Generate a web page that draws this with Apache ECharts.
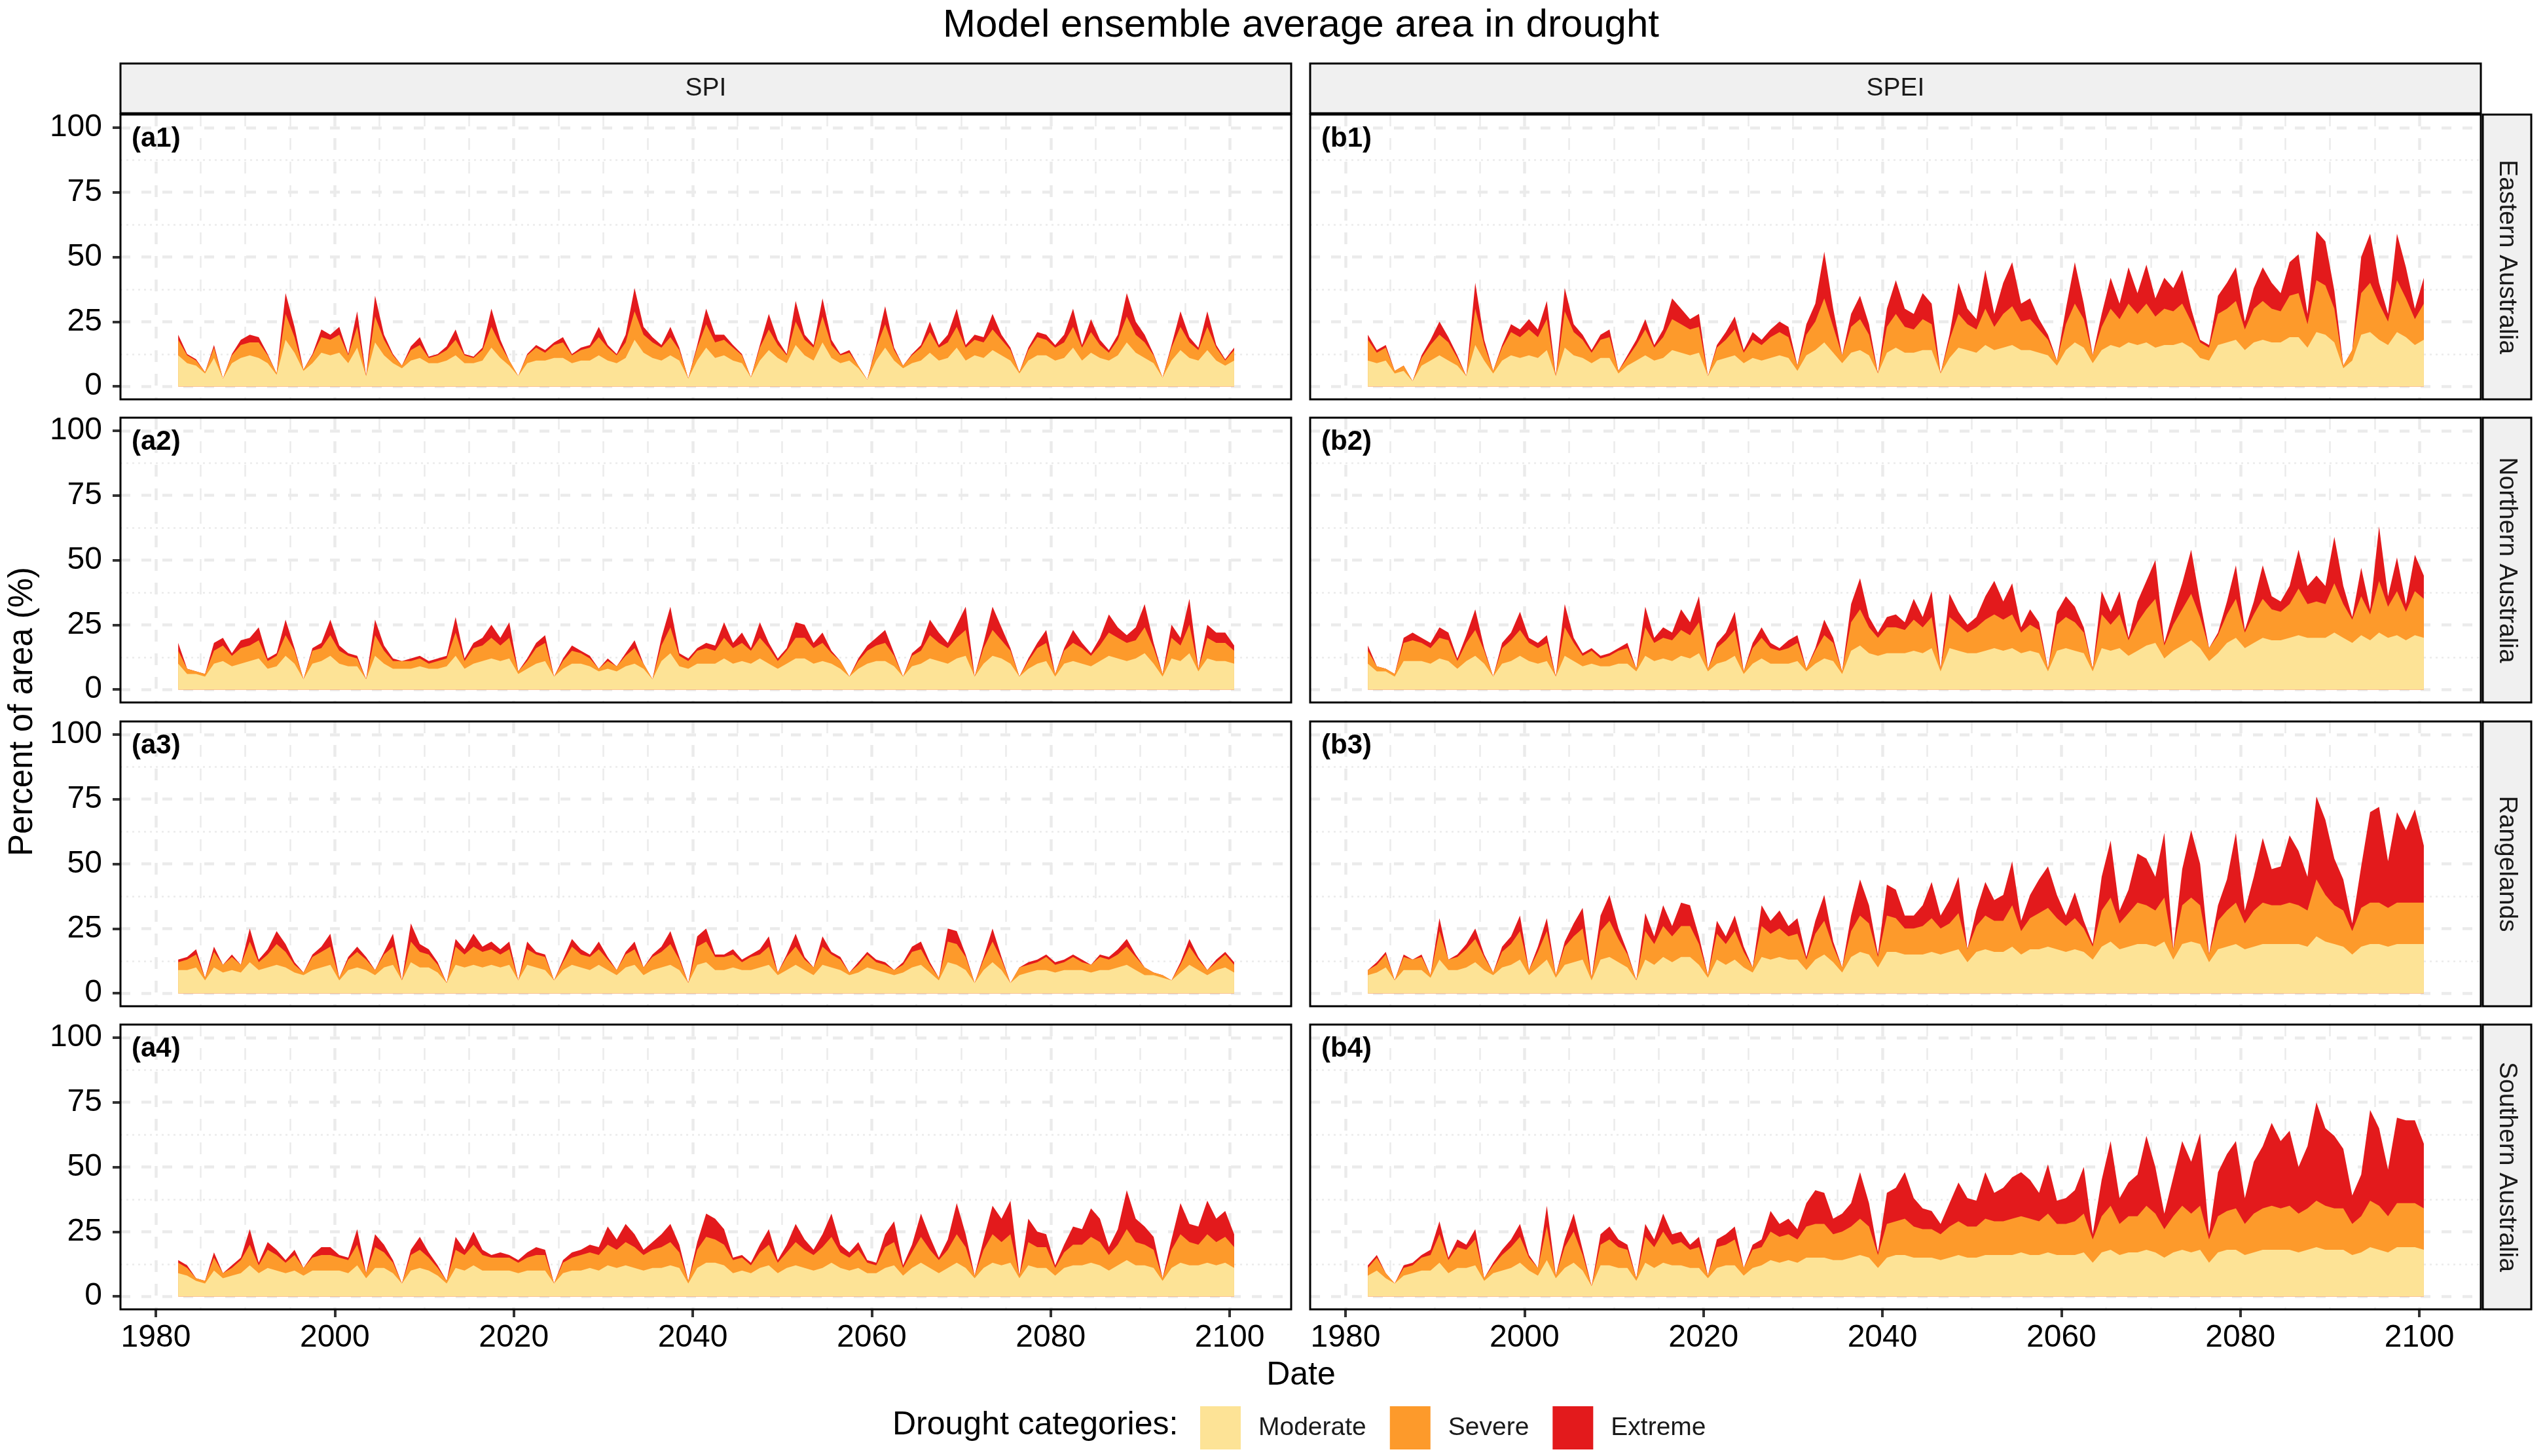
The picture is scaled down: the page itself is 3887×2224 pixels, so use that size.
<!DOCTYPE html>
<html><head><meta charset="utf-8">
<script src="https://cdn.jsdelivr.net/npm/echarts@6/dist/echarts.min.js"></script>
<style>html,body{margin:0;padding:0;background:#fff}#c{width:3887px;height:2224px}</style>
</head><body><div id="c"></div><script>
// ---------------- data ----------------
const years = Array.from({length: 119}, (_, i) => 1982 + i); // 1982 .. 2100
const categories = ['Moderate', 'Severe', 'Extreme'];
const columnLabels = ['SPI', 'SPEI'];
const rowLabels = ['Eastern Australia', 'Northern Australia', 'Rangelands', 'Southern Australia'];
const panelTags = [['(a1)', '(b1)'], ['(a2)', '(b2)'], ['(a3)', '(b3)'], ['(a4)', '(b4)']];
const yTicks = [0, 25, 50, 75, 100];
const yMinorTicks = [12.5, 37.5, 62.5, 87.5];
const xTicks = [1980, 2000, 2020, 2040, 2060, 2080, 2100];
const xMinorTicks = [1985, 1990, 1995, 2005, 2010, 2015, 2025, 2030, 2035, 2045, 2050, 2055, 2065, 2070, 2075, 2085, 2090, 2095];

// (a1) SPI Eastern Australia
const a1Moderate = [12,9,8,5,11,3,9,11,12,11, 9,4.5,18,13,6,9,13,12,13,9, 15,4,17,12,9,7,10,11,9,9, 10,12,9,9,10,15,11,8,4,9, 10,10,11,11,9,10,10,12,10,9, 11,18,13,11,10,12,10,3,10,15, 11,12,10,9,3.5,10,14,11,9,16, 12,10,17,11,9,10,7,2.6,10,15, 10,7,9,10,13,10,11,15,10,12, 11,14,12,10,5,10,12,12,10,11, 15,10,13,11,10,12,17,13,11,9, 3.4,10,14,11,10,14,10,8,10];
const a1Severe = [6,3,2,0.5,4,0,3,5,5,6, 3,0.5,10,6,0.5,3,6,6,7,3, 8,0,10,6,3,1,4,5,2,3, 4,6,3,2,4,8,5,2,0,3, 5,3,5,6,3,4,5,7,5,3, 6,11,7,6,5,7,4,0,5,9, 6,6,5,3,0,5,8,5,3,9, 6,5,10,5,3,3,1,0,5,9, 4,1,3,5,8,5,6,8,5,6, 6,8,6,4,0.5,4,7,6,5,6, 8,5,8,5,3,6,10,7,6,3, 0,5,9,6,4,9,5,2,4];
const a1Extreme = [2,0.5,0.5,0,1,0,0.5,2,3,2, 0.5,0,8,4,0,0.5,3,2,3,0.5, 6,0,8,2,0.5,0,1.5,3,0.5,0.5, 1.5,4,0.5,0.5,1,7,2,0,0,0.5, 1,1,1,2,0.5,1,1,4,1,0.5, 3,9,3,2,1,4,1,0,1,6, 3,2,1,0.5,0,1,6,2,0.5,8, 2,1,7,2,0.5,1,0,0,1,7, 1,0,0.5,1,4,1,3,7,1,2, 2,6,2,1,0,1,2,2,1,3, 7,1,5,2,1,2,9,5,3,0.5, 0,1,6,2,1,6,1,0.5,1];

// (b1) SPEI Eastern Australia
const b1Moderate = [10,9,10,5,6,2,8,10,12,10, 8,4,16,10,5,10,12,11,12,11, 14,4,15,12,11,9,11,11,5,8, 10,12,10,11,14,13,12,13,4,10, 11,12,9,11,10,11,12,11,6,12, 14,17,13,9,13,14,12,5,13,15, 13,13,14,14,5,11,15,14,13,16, 14,15,16,14,14,13,12,8,14,17, 15,9,14,16,15,17,16,17,15,16, 16,17,15,11,10,16,17,18,14,17, 18,17,17,19,19,15,21,20,17,7, 10,20,21,18,16,21,19,16,18];
const b1Severe = [8,4,5,1,2,0,3,6,8,7, 3,0,14,6,1,5,9,8,10,8, 12,0,14,9,7,4,7,8,1,3, 6,10,5,8,12,11,10,10,0,5, 7,10,4,7,6,8,9,8,2,8, 11,17,10,3,10,12,8,0,10,13, 10,9,12,10,0,7,13,10,9,14, 9,13,15,11,12,9,6,2,10,15, 11,3,9,14,11,15,12,15,12,14, 13,15,10,6,5,12,13,15,8,13, 15,13,12,16,17,9,20,19,13,1, 4,16,19,14,9,20,15,10,14];
const b1Extreme = [2,1,1,0,0,0,1,2,5,2, 1,0,10,2,0,1,3,3,4,3, 7,0,9,3,2,1,2,3,0,1, 2,4,1,3,8,6,4,5,0,1, 3,5,1,3,2,3,4,4,0,4, 7,18,7,0,5,9,4,0,7,13, 7,6,10,8,0,2,12,6,4,15, 5,12,17,7,8,4,2,0,6,16, 6,0,5,12,6,14,8,15,7,12, 9,13,5,1,1,7,10,13,3,8, 13,10,7,13,15,4,19,17,7,0, 0,14,19,8,3,18,12,4,10];

// (a2) SPI Northern Australia
const a2Moderate = [10,6,6,5,10,11,9,10,11,12, 8,9,13,10,4,10,11,13,10,9, 9,4,13,10,8,8,8,9,8,8, 9,13,8,10,11,12,11,12,6,8, 10,11,5,8,10,10,9,7,8,7, 9,10,8,4,11,14,9,8,10,10, 10,12,10,11,10,12,10,8,10,12, 12,10,11,10,8,5,8,10,11,11, 9,5,9,10,12,11,10,12,13,5, 10,13,12,10,5,8,10,11,5,10, 11,10,9,11,13,12,11,12,14,10, 5,12,11,14,7,12,11,11,10];
const a2Severe = [5,2,1,1,5,6,4,6,6,7, 3,4,8,5,0,5,5,8,5,4, 3,0,8,5,3,3,3,3,2,3, 3,9,3,6,6,8,6,8,1,3, 6,7,0,3,5,4,3,1,3,2, 4,6,2,0,6,10,4,3,5,6, 5,8,6,7,5,8,6,3,5,8, 8,6,7,4,3,0,3,5,6,7, 4,0,4,5,9,7,6,8,10,0, 6,10,7,5,0,3,6,7,1,5, 7,6,4,6,9,8,7,7,10,6, 1,8,6,11,1,8,7,7,5];
const a2Extreme = [3,0,0,0,3,3,1,3,3,5, 1,1,6,1,0,1,2,6,2,1, 1,0,6,2,1,0,1,1,1,1, 1,6,1,2,3,5,3,6,0,1, 2,3,0,1,2,1,1,0,1,0, 1,3,0,0,3,8,1,1,1,2, 2,6,2,4,1,6,2,1,1,6, 5,2,4,1,0,0,1,2,3,5, 1,0,1,2,6,4,2,5,9,0, 2,9,5,1,0,1,2,5,0,1, 5,2,1,3,7,4,3,5,9,2, 0,5,3,10,0,5,4,4,2];

// (b2) SPEI Northern Australia
const b2Moderate = [10,7,7,5,11,11,11,10,12,11, 8,11,13,10,5,10,11,13,11,10, 11,5,13,11,9,10,9,9,10,10, 7,13,11,12,11,13,12,14,7,10, 11,13,6,10,12,10,10,10,11,7, 10,12,11,6,15,17,14,13,14,14, 14,15,14,16,7,16,15,14,14,15, 16,15,16,14,15,14,7,15,16,15, 14,7,16,15,16,13,15,17,18,12, 15,17,19,16,11,14,18,20,16,18, 20,19,19,20,21,20,20,20,22,20, 18,21,19,22,20,21,19,21,20];
const b2Severe = [5,2,1,1,7,8,7,6,8,8, 3,7,10,5,0,6,8,10,7,6, 7,0,11,7,4,5,3,4,5,6, 1,11,7,8,8,10,9,12,1,6, 8,10,1,6,8,6,5,6,7,1, 5,9,7,1,11,14,10,7,10,10, 9,12,10,12,1,12,10,8,10,12, 13,12,13,8,10,9,1,10,12,11, 8,1,13,10,13,6,11,14,17,5, 10,14,18,12,5,7,11,15,6,11, 15,12,11,13,18,13,14,13,19,13, 9,15,10,20,12,17,11,17,15];
const b2Extreme = [2,0,0,0,2,3,2,2,4,3, 1,3,8,1,0,2,3,7,2,2, 3,0,9,2,1,1,1,1,1,2, 0,8,2,4,3,8,5,10,0,2, 3,7,0,2,4,2,1,3,3,0, 1,6,2,0,7,12,4,2,4,5, 3,8,4,10,0,9,5,3,4,9, 13,7,12,2,6,3,0,5,8,6, 2,0,9,5,9,1,8,11,15,1, 5,10,17,6,0,1,5,13,1,5, 13,5,4,7,15,7,10,7,18,7, 1,11,2,21,4,13,3,14,9];

// (a3) SPI Rangelands
const a3Moderate = [9,9,10,5,10,8,9,8,12,9, 10,11,10,8,7,9,10,11,5,9, 10,9,7,10,11,5,12,10,10,8, 4,11,10,11,10,11,10,11,5,11, 10,9,5,9,11,10,9,11,9,7, 10,11,7,9,10,11,9,4,11,12, 9,9,10,9,9,10,11,7,9,11, 9,7,11,10,9,7,8,10,9,8, 7,8,10,11,8,5,12,11,9,4, 9,12,9,4,7,8,9,9,8,9, 9,9,8,9,9,10,11,9,7,7, 6,5,8,11,9,7,9,10,8];
const a3Severe = [3,4,5,1,6,3,5,3,8,3, 5,8,6,3,1,5,6,7,1,4, 6,4,2,5,7,0,8,6,5,3, 0,7,5,7,6,6,5,6,0,6, 5,5,0,3,7,5,5,6,4,2, 5,6,3,5,6,8,4,0,7,8, 5,5,5,3,5,5,7,1,5,7, 4,3,7,5,4,1,3,5,3,3, 2,3,6,6,3,1,8,8,5,0, 4,8,4,0,3,3,3,5,3,3, 5,3,3,5,4,5,7,5,3,1, 1,0,3,7,4,2,3,5,3];
const a3Extreme = [1,1,2,0,2,0,1,0,5,1, 2,5,3,1,0,1,2,5,0,1, 2,1,0,1,5,0,7,3,2,1, 0,3,2,5,2,3,2,3,0,3, 1,1,0,1,3,2,1,3,1,0, 1,3,0,1,2,5,1,0,4,5, 1,1,2,1,1,2,4,0,1,5, 1,0,4,1,1,0,1,1,1,1, 0,1,2,3,1,0,5,5,1,0, 1,5,1,0,0,1,1,1,1,1, 1,1,0,1,1,2,3,1,0,0, 0,0,1,3,1,0,1,1,1];

// (b3) SPEI Rangelands
const b3Moderate = [7,8,10,5,9,9,9,6,13,9, 9,10,12,9,7,10,11,13,7,10, 13,6,11,12,13,5,13,14,12,10, 5,13,11,14,12,14,14,11,6,13, 11,13,10,8,14,13,14,13,13,9, 13,15,12,8,14,16,15,10,16,16, 15,15,15,16,15,16,17,12,16,17, 16,16,18,15,17,17,18,17,16,17, 16,13,18,20,17,18,19,19,18,20, 13,19,20,19,12,17,18,19,17,18, 19,19,19,19,19,18,22,20,19,18, 15,18,19,19,18,19,19,19,19];
const b3Severe = [2,3,5,0,5,4,5,1,11,4, 5,7,9,5,1,6,8,11,2,6, 11,1,7,10,12,1,11,14,9,5, 0,11,8,12,10,12,12,8,1,10, 8,11,6,2,12,10,11,9,10,4, 10,13,6,2,10,14,12,4,14,13, 10,10,11,13,10,11,14,5,10,13, 12,12,16,9,12,14,15,12,10,12, 9,5,14,17,10,13,16,15,14,17, 4,15,17,15,3,11,14,16,10,14, 16,15,15,16,15,14,22,18,15,14, 9,15,16,16,15,16,16,16,16];
const b3Extreme = [0,1,1,0,1,0,1,0,5,0, 1,2,4,1,0,2,3,6,0,2, 5,0,2,5,8,0,6,10,4,1, 0,7,3,8,4,9,8,3,0,5, 3,6,2,0,8,5,7,4,6,1, 5,10,2,0,6,14,7,1,12,11, 5,5,8,14,5,9,14,0,6,13, 8,10,17,4,9,13,16,9,4,10, 3,1,13,22,5,9,19,18,13,25, 0,14,26,16,0,6,12,27,5,13, 25,14,15,26,21,13,32,29,18,12, 3,16,35,37,18,35,28,36,22];

// (a4) SPI Southern Australia
const a4Moderate = [9,8,6,5,10,7,8,9,12,9, 11,10,9,10,8,10,10,10,10,9, 12,7,11,11,9,5,10,11,10,8, 5,11,10,12,10,10,10,10,9,10, 10,10,5,9,10,10,11,10,12,11, 12,11,10,11,11,12,11,5,11,13, 13,12,9,10,9,11,12,9,11,12, 11,10,11,13,11,10,11,9,9,11, 12,8,11,13,11,9,11,13,11,7, 11,13,12,13,7,12,11,11,8,11, 12,12,13,12,10,12,14,12,12,11, 6,11,13,12,12,13,12,13,11];
const a4Severe = [4,3,1,1,5,2,3,5,8,3, 7,6,4,6,3,5,6,6,5,5, 8,2,8,6,4,0,6,7,5,3, 1,7,6,8,6,5,5,5,4,5, 6,6,0,4,5,6,6,6,8,7, 9,8,6,7,8,9,6,1,7,10, 9,8,5,5,3,6,8,4,6,9, 7,6,8,10,6,5,7,4,3,8, 9,3,6,10,7,5,7,11,8,1, 7,11,9,11,1,9,8,8,3,6, 8,8,10,9,6,8,12,9,8,7, 1,7,11,9,8,11,9,10,8];
const a4Extreme = [1,1,0,0,2,0,1,1,6,1, 3,2,1,2,0,1,3,3,1,1, 6,0,5,3,1,0,2,5,2,1, 0,5,2,5,2,1,2,1,1,2, 3,2,0,1,2,2,3,3,7,4, 7,5,2,3,5,7,3,0,3,9, 8,6,1,1,1,3,6,1,3,7, 4,2,5,9,3,2,3,1,1,5, 8,1,3,9,5,1,4,12,5,0, 4,11,9,13,0,9,6,5,1,3, 7,6,11,9,3,6,15,9,7,5, 0,4,12,7,7,13,9,10,5];

// (b4) SPEI Southern Australia
const b4Moderate = [8,10,7,5,8,9,10,10,13,9, 11,11,12,6,9,10,11,13,10,8, 14,7,11,13,10,4,12,12,11,11, 6,13,11,13,12,12,11,11,7,11, 12,12,8,11,12,14,13,14,13,15, 15,15,14,14,15,16,15,11,15,16, 16,15,15,15,14,15,16,15,15,16, 16,16,16,17,16,16,17,16,16,16, 17,13,17,18,16,17,17,18,17,15, 17,18,17,18,13,17,18,18,16,17, 18,18,18,18,17,18,19,18,18,18, 16,17,19,18,17,19,19,19,18];
const b4Severe = [3,5,2,0,3,3,5,6,11,5, 8,7,10,1,3,6,8,10,5,3, 13,1,8,12,6,0,8,10,8,7, 1,10,8,12,8,9,7,8,1,8, 8,10,3,7,7,11,10,10,9,12, 13,13,10,11,12,14,12,5,13,13, 14,12,11,11,10,12,13,12,12,14, 13,13,14,14,14,13,15,12,12,13, 15,9,14,17,12,14,14,17,15,11, 14,17,15,17,9,14,15,16,12,15, 16,17,16,17,15,16,18,17,16,16, 12,14,18,17,14,17,17,17,16];
const b4Extreme = [1,1,0,0,1,1,1,2,5,1, 3,2,4,0,1,2,3,5,1,0, 8,0,3,7,2,0,4,5,3,2, 0,5,3,7,4,4,2,4,0,3, 4,5,0,2,3,8,5,6,4,9, 13,12,6,7,9,18,9,1,12,13, 18,11,8,7,4,9,15,11,10,18, 11,13,16,17,15,11,19,9,10,12, 18,2,14,25,10,13,16,27,18,6, 15,25,20,28,2,17,22,26,10,20, 24,32,26,29,18,24,38,30,28,23, 11,16,35,30,18,33,32,32,25];

// panels[row][col] = [moderate, severe, extreme]
const panels = [
  [[a1Moderate, a1Severe, a1Extreme], [b1Moderate, b1Severe, b1Extreme]],
  [[a2Moderate, a2Severe, a2Extreme], [b2Moderate, b2Severe, b2Extreme]],
  [[a3Moderate, a3Severe, a3Extreme], [b3Moderate, b3Severe, b3Extreme]],
  [[a4Moderate, a4Severe, a4Extreme], [b4Moderate, b4Severe, b4Extreme]]
];

// ---------------- layout & style ----------------
const FONT = '"Liberation Sans", Arial, Helvetica, sans-serif';
const colors = ['#FDE396', '#FD9A2B', '#E31A1C'];
const colLeft = [184, 2001], colW = 1788;
const rowTop = [175, 638, 1102, 1565], rowH = 435;
const stripTop = 97, stripH = 76, rStripX = 3792, rStripW = 74;
const X_MIN = 1976.05, X_MAX = 2106.87, Y_MIN = -5, Y_MAX = 105;
const gridGrey = '#EBEBEB';

const option = {
  animation: false,
  backgroundColor: '#ffffff',
  textStyle: {fontFamily: FONT},
  grid: [], xAxis: [], yAxis: [], series: [],
  legend: {
    data: categories, left: 1828, top: 2143, orient: 'horizontal',
    itemWidth: 62, itemHeight: 66, itemGap: 36, icon: 'rect', selectedMode: false,
    itemStyle: {borderWidth: 0},
    textStyle: {fontSize: 39, color: '#1A1A1A', fontFamily: FONT, padding: [0, 0, 0, 22]}
  },
  graphic: {elements: []}
};

const G = option.graphic.elements;
G.push({type: 'text', x: 1987, y: 39, z: 20,
  style: {text: 'Model ensemble average area in drought', fontSize: 60, fontFamily: FONT, fill: '#000', align: 'center', verticalAlign: 'middle'}});

for (let c = 0; c < 2; c++) {
  G.push({type: 'rect', z: 20, shape: {x: colLeft[c], y: stripTop, width: colW, height: stripH},
    style: {fill: '#F0F0F0', stroke: '#000', lineWidth: 3}});
  G.push({type: 'text', z: 21, x: colLeft[c] + colW / 2, y: stripTop + stripH / 2,
    style: {text: columnLabels[c], fontSize: 39, fontFamily: FONT, fill: '#1A1A1A', align: 'center', verticalAlign: 'middle'}});
}
for (let r = 0; r < 4; r++) {
  G.push({type: 'rect', z: 20, shape: {x: rStripX, y: rowTop[r], width: rStripW, height: rowH},
    style: {fill: '#F0F0F0', stroke: '#000', lineWidth: 3}});
  G.push({type: 'text', z: 21, x: rStripX + rStripW / 2, y: rowTop[r] + rowH / 2, rotation: -Math.PI / 2,
    style: {text: rowLabels[r], fontSize: 39, fontFamily: FONT, fill: '#1A1A1A', align: 'center', verticalAlign: 'middle'}});
}
G.push({type: 'text', z: 20, x: 35, y: 1087, rotation: Math.PI / 2,
  style: {text: 'Percent of area (%)', fontSize: 51, fontFamily: FONT, fill: '#000', align: 'center', verticalAlign: 'middle'}});
G.push({type: 'text', z: 20, x: 1987, y: 2101,
  style: {text: 'Date', fontSize: 50, fontFamily: FONT, fill: '#000', align: 'center', verticalAlign: 'middle'}});
G.push({type: 'text', z: 20, x: 1363, y: 2177,
  style: {text: 'Drought categories:', fontSize: 50, fontFamily: FONT, fill: '#000', align: 'left', verticalAlign: 'middle'}});

const plainLabel = v => String(Math.round(v));

let gi = 0;
for (let r = 0; r < 4; r++) {
  for (let c = 0; c < 2; c++) {
    option.grid.push({left: colLeft[c], top: rowTop[r], width: colW, height: rowH,
      show: false, containLabel: false, outerBoundsMode: 'none'});
    const bottomRow = r === 3, leftCol = c === 0;
    option.xAxis.push({
      type: 'value', gridIndex: gi, min: X_MIN, max: X_MAX, position: 'bottom',
      axisLine: {show: false, onZero: false},
      axisTick: {show: bottomRow, customValues: xTicks, length: 12, lineStyle: {color: '#333333', width: 4}},
      axisLabel: {show: bottomRow, customValues: xTicks, formatter: plainLabel, margin: 20, fontSize: 48, color: '#000', fontFamily: FONT},
      splitLine: {show: true, lineStyle: {color: gridGrey, width: 4.5, type: [18, 18]}}
    });
    option.xAxis.push({
      type: 'value', gridIndex: gi, min: X_MIN, max: X_MAX, position: 'top',
      axisLine: {show: false, onZero: false},
      axisTick: {show: false, customValues: xMinorTicks},
      axisLabel: {show: false, customValues: xMinorTicks},
      splitLine: {show: true, lineStyle: {color: gridGrey, width: 2.5, type: [18, 18]}}
    });
    option.yAxis.push({
      type: 'value', gridIndex: gi, min: Y_MIN, max: Y_MAX, position: 'left',
      axisLine: {show: false, onZero: false},
      axisTick: {show: leftCol, customValues: yTicks, length: 12, lineStyle: {color: '#333333', width: 4}},
      axisLabel: {show: leftCol, customValues: yTicks, formatter: plainLabel, margin: 28, fontSize: 48, color: '#000', fontFamily: FONT},
      splitLine: {show: true, lineStyle: {color: gridGrey, width: 4.5, type: [15, 17]}}
    });
    option.yAxis.push({
      type: 'value', gridIndex: gi, min: Y_MIN, max: Y_MAX, position: 'right',
      axisLine: {show: false, onZero: false},
      axisTick: {show: false, customValues: yMinorTicks},
      axisLabel: {show: false, customValues: yMinorTicks},
      splitLine: {show: true, lineStyle: {color: gridGrey, width: 2.5, type: [3, 6]}}
    });
    // Stacked areas: cumulative tops, painted from the top category down so each
    // lower layer covers the one above it (same look as a stacked area chart).
    const [mod, sev, ext] = panels[r][c];
    const tops = [
      mod.map((v, i) => v),
      mod.map((v, i) => v + sev[i]),
      mod.map((v, i) => v + sev[i] + ext[i])
    ];
    for (let k = 2; k >= 0; k--) {
      option.series.push({
        type: 'line', name: categories[k], xAxisIndex: 2 * gi, yAxisIndex: 2 * gi,
        symbol: 'none', showSymbol: false, smooth: false,
        lineStyle: {width: 0, color: colors[k]},
        itemStyle: {color: colors[k]},
        areaStyle: {color: colors[k], opacity: 1, origin: 0},
        emphasis: {disabled: true},
        data: years.map((y, i) => [y + 0.5, tops[k][i]])
      });
    }
    G.push({type: 'rect', z: 20, shape: {x: colLeft[c], y: rowTop[r], width: colW, height: rowH},
      style: {fill: 'none', stroke: '#000', lineWidth: 3}});
    G.push({type: 'text', z: 21, x: colLeft[c] + 17, y: rowTop[r] + 37,
      style: {text: panelTags[r][c], fontSize: 42, fontWeight: 'bold', fontFamily: FONT, fill: '#000', align: 'left', verticalAlign: 'middle'}});
    gi++;
  }
}

const chart = echarts.init(document.getElementById('c'), null, {renderer: 'canvas', width: 3887, height: 2224});
chart.setOption(option);
</script></body></html>
